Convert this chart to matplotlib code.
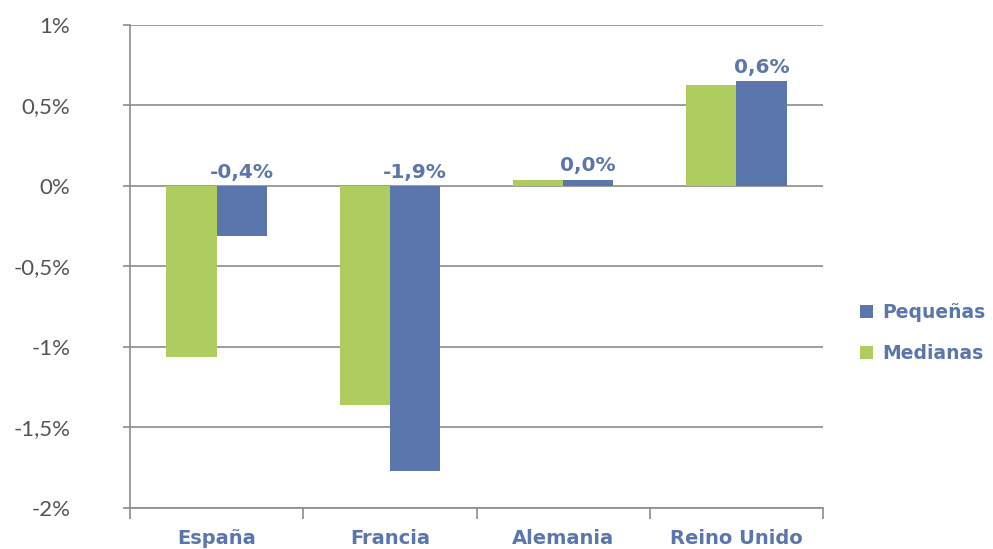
import matplotlib.pyplot as plt
import numpy as np

paises = ["España", "Francia", "Alemania", "Reino Unido"]
medianas = [-1.06, -1.36, 0.04, 0.63]
pequenas = [-0.31, -1.77, 0.04, 0.65]
etiquetas = ["-0,4%", "-1,9%", "0,0%", "0,6%"]
ticks_y = [-2, -1.5, -1, -0.5, 0, 0.5, 1]
ticks_y_txt = ["-2%", "-1,5%", "-1%", "-0,5%", "0%", "0,5%", "1%"]

AZUL = "#5b75ad"
VERDE = "#afcd5f"
GRIS = "#8c8c8c"

plt.rcParams["font.family"] = ["DejaVu Sans"]

fig = plt.figure(figsize=(9.93, 5.49), dpi=100)
ax = fig.add_axes([0.1309, 0.0747, 0.698, 0.8798])

x = np.arange(len(paises))
w = 0.29
ax.bar(x - w / 2, medianas, w, color=VERDE, label="Medianas", zorder=3)
ax.bar(x + w / 2, pequenas, w, color=AZUL, label="Pequeñas", zorder=3)

for xi, v, txt in zip(x, pequenas, etiquetas):
    ax.annotate(txt, (xi + w / 2, max(v, 0)), xytext=(0, 3),
                textcoords="offset points", ha="center", va="bottom",
                fontsize=14.5, fontweight="bold", color=AZUL)

ax.set_xlim(-0.5, 3.5)
ax.set_ylim(-2, 1)
ax.set_yticks(ticks_y)
ax.set_yticklabels(ticks_y_txt, fontsize=16, color="#555555",
                   family=["Lato", "DejaVu Sans"])
ax.tick_params(axis="y", length=5, width=1.2, color=GRIS, pad=38)
for t in ticks_y:
    ax.axhline(t, color=GRIS, lw=1.2, zorder=1)

ax.set_xticks(np.arange(-0.5, 4, 1))
ax.set_xticklabels([])
ax.tick_params(axis="x", which="major", length=8, width=1.2, color=GRIS)
ax.set_xticks(x, minor=True)
ax.set_xticklabels(paises, minor=True, fontsize=14, fontweight="bold", color=AZUL)
ax.tick_params(axis="x", which="minor", length=0, pad=15)

for s in ["top", "right"]:
    ax.spines[s].set_visible(False)
for s in ["left", "bottom"]:
    ax.spines[s].set_color(GRIS)
    ax.spines[s].set_linewidth(1.2)

handles, labels = ax.get_legend_handles_labels()
leg = ax.legend(handles[::-1], labels[::-1], loc="center left",
                bbox_to_anchor=(1.053, 0.362), frameon=False, handlelength=0.7,
                handleheight=0.7, handletextpad=0.5, labelspacing=1.2,
                borderaxespad=0, borderpad=0,
                prop={"size": 13.5, "weight": "bold"})
for t in leg.get_texts():
    t.set_color(AZUL)

fig.savefig("out.png", dpi=100)
